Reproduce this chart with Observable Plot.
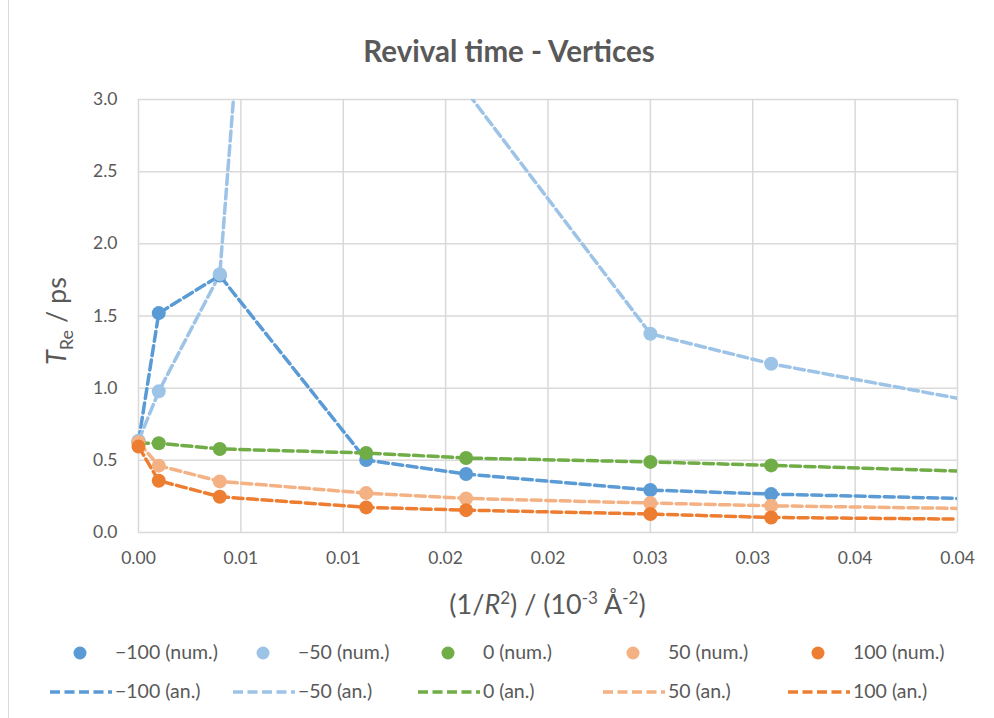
<!DOCTYPE html>
<html>
<head>
<meta charset="utf-8">
<script src="https://cdn.jsdelivr.net/npm/d3@7"></script>
<script src="https://cdn.jsdelivr.net/npm/@observablehq/plot@0.6"></script>
<style>
  html, body { margin: 0; padding: 0; background: #ffffff; }
  #wrap { position: relative; width: 994px; height: 718px; overflow: hidden; font-family: Lato, "Open Sans", sans-serif; color: #595959; }
  #border { position: absolute; left: 8px; top: 0; width: 1px; height: 718px; background: #d9d9d9; }
  #title { position: absolute; left: 0; width: 1018px; top: 35px; text-align: center; font-weight: bold; font-size: 29.5px; line-height: 32px; color: #595959; }
  #chart { position: absolute; left: 0; top: 80px; }
  .leg { position: absolute; font-size: 19.5px; line-height: 22px; color: #595959; white-space: nowrap; }
  .sw { position: absolute; }
</style>
</head>
<body>
<div id="wrap">
  <div id="border"></div>
  <div id="title">Revival time - Vertices</div>
  <div id="chart"></div>
  <div id="legend"></div>
</div>
<script>
// ---- data ----
const seriesKeys = ["−100", "−50", "0", "50", "100"];
const seriesColors = ["#5B9BD5", "#9DC3E6", "#70AD47", "#F4B183", "#ED7D31"];

// x positions (1/R^2) of the numerical points and of the analytical curves
const xNum = [0, 0.00099, 0.00397, 0.01112, 0.0160, 0.0250, 0.0309];
const xAn  = [0, 0.00099, 0.00397, 0.01112, 0.0160, 0.0250, 0.0309, 0.04];

// numerical results (null = no point)
const numM100 = [0.63, 1.52, 1.78, 0.502, 0.405, 0.294, 0.266];
const numM50  = [0.636, 0.978, 1.79, null, null, 1.377, 1.169];
const num0    = [0.62, 0.618, 0.579, 0.551, 0.516, 0.489, 0.465];
const num50   = [0.625, 0.463, 0.354, 0.273, 0.236, 0.204, 0.185];
const num100  = [0.595, 0.359, 0.248, 0.174, 0.155, 0.128, 0.104];

// analytical curves
const anM100 = [0.63, 1.52, 1.78, 0.502, 0.405, 0.294, 0.266, 0.236];
const anM50  = [0.636, 0.978, 1.79, 14.8, 3.06, 1.377, 1.169, 0.93];
const an0    = [0.62, 0.618, 0.579, 0.551, 0.516, 0.489, 0.465, 0.426];
const an50   = [0.625, 0.463, 0.354, 0.273, 0.236, 0.204, 0.185, 0.167];
const an100  = [0.595, 0.359, 0.248, 0.174, 0.155, 0.128, 0.104, 0.093];

// axis ticks
const xTicks = [0, 0.005, 0.01, 0.015, 0.02, 0.025, 0.03, 0.035, 0.04];
const xTickLabels = ["0.00", "0.01", "0.01", "0.02", "0.02", "0.03", "0.03", "0.04", "0.04"];
const yTicks = [0, 0.5, 1.0, 1.5, 2.0, 2.5, 3.0];
const yTickLabels = ["0.0", "0.5", "1.0", "1.5", "2.0", "2.5", "3.0"];

// ---- build tables ----
const numSeries = [numM100, numM50, num0, num50, num100];
const anSeries = [anM100, anM50, an0, an50, an100];
const numData = [];
seriesKeys.forEach((k, j) => xNum.forEach((x, i) => {
  const v = numSeries[j][i];
  if (v != null) numData.push({series: k, x, y: v});
}));
const anData = [];
seriesKeys.forEach((k, j) => xAn.forEach((x, i) => anData.push({series: k, x, y: anSeries[j][i]})));

const gridColor = "#d9d9d9";
const dash = "10,4.5";

const chart = Plot.plot({
  width: 994,
  height: 547,
  marginLeft: 138,
  marginRight: 37,
  marginTop: 19,
  marginBottom: 95,
  style: {fontFamily: "Lato, 'Open Sans', sans-serif", fontSize: "17.5px", color: "#595959", background: "transparent"},
  x: {domain: [0, 0.04]},
  y: {domain: [0, 3]},
  color: {domain: seriesKeys, range: seriesColors},
  marks: [
    Plot.gridX(xTicks, {stroke: gridColor, strokeOpacity: 1, strokeWidth: 1.5}),
    Plot.gridY(yTicks, {stroke: gridColor, strokeOpacity: 1, strokeWidth: 1.5}),
    Plot.axisX(xTicks, {tickSize: 0, tickPadding: 19, label: null, tickFormat: d => xTickLabels[xTicks.indexOf(d)], fontSize: 17.5}),
    Plot.axisY(yTicks, {tickSize: 0, tickPadding: 21, label: null, tickFormat: d => yTickLabels[yTicks.indexOf(d)], fontSize: 17.5}),
    Plot.line(anData, {x: "x", y: "y", z: "series", stroke: "series", strokeWidth: 3.5, strokeDasharray: dash, clip: true}),
    Plot.dot(numData, {x: "x", y: "y", fill: "series", r: 7, stroke: "none"})
  ]
});
document.getElementById("chart").appendChild(chart);

// axis titles with italic / super- and subscripts
const svg = d3.select(chart);
const xl = svg.append("text")
  .attr("x", 547.5).attr("y", 534)
  .attr("text-anchor", "middle")
  .attr("fill", "#595959")
  .style("font-size", "27px");
xl.append("tspan").text("(1/");
xl.append("tspan").attr("font-style", "italic").text("R");
xl.append("tspan").attr("dy", -10).style("font-size", "17px").text("2");
xl.append("tspan").attr("dy", 10).text(") / (10");
xl.append("tspan").attr("dy", -10).style("font-size", "17px").text("-3");
xl.append("tspan").attr("dy", 10).text(" Å");
xl.append("tspan").attr("dy", -10).style("font-size", "17px").text("-2");
xl.append("tspan").attr("dy", 10).text(")");

const yl = svg.append("text")
  .attr("transform", "translate(66,241) rotate(-90)")
  .attr("text-anchor", "middle")
  .attr("fill", "#595959")
  .style("font-size", "27px");
yl.append("tspan").attr("font-style", "italic").text("T");
yl.append("tspan").attr("dy", 7).style("font-size", "18px").text("Re");
yl.append("tspan").attr("dy", -7).text(" / ps");

// ---- legend ----
const legendTextX = [115, 298, 483, 668, 853];
const legendRowY = [653, 692];
const legend = document.getElementById("legend");
seriesKeys.forEach((k, j) => {
  const tx = legendTextX[j];
  // row 1: marker
  const s1 = document.createElementNS("http://www.w3.org/2000/svg", "svg");
  s1.setAttribute("class", "sw"); s1.setAttribute("width", 16); s1.setAttribute("height", 16);
  s1.style.left = (tx - 43) + "px"; s1.style.top = (legendRowY[0] - 8) + "px";
  s1.innerHTML = `<circle cx="8" cy="8" r="6.5" fill="${seriesColors[j]}"></circle>`;
  legend.appendChild(s1);
  const t1 = document.createElement("div");
  t1.className = "leg"; t1.textContent = k + " (num.)";
  t1.style.left = tx + "px"; t1.style.top = (legendRowY[0] - 12) + "px";
  legend.appendChild(t1);
  // row 2: dashed line
  const s2 = document.createElementNS("http://www.w3.org/2000/svg", "svg");
  s2.setAttribute("class", "sw"); s2.setAttribute("width", 64); s2.setAttribute("height", 8);
  s2.style.left = (tx - 65) + "px"; s2.style.top = (legendRowY[1] - 4) + "px";
  s2.innerHTML = `<line x1="0" y1="4" x2="62" y2="4" stroke="${seriesColors[j]}" stroke-width="3.5" stroke-dasharray="${dash}"></line>`;
  legend.appendChild(s2);
  const t2 = document.createElement("div");
  t2.className = "leg"; t2.textContent = k + " (an.)";
  t2.style.left = tx + "px"; t2.style.top = (legendRowY[1] - 12) + "px";
  legend.appendChild(t2);
});
</script>
</body>
</html>
